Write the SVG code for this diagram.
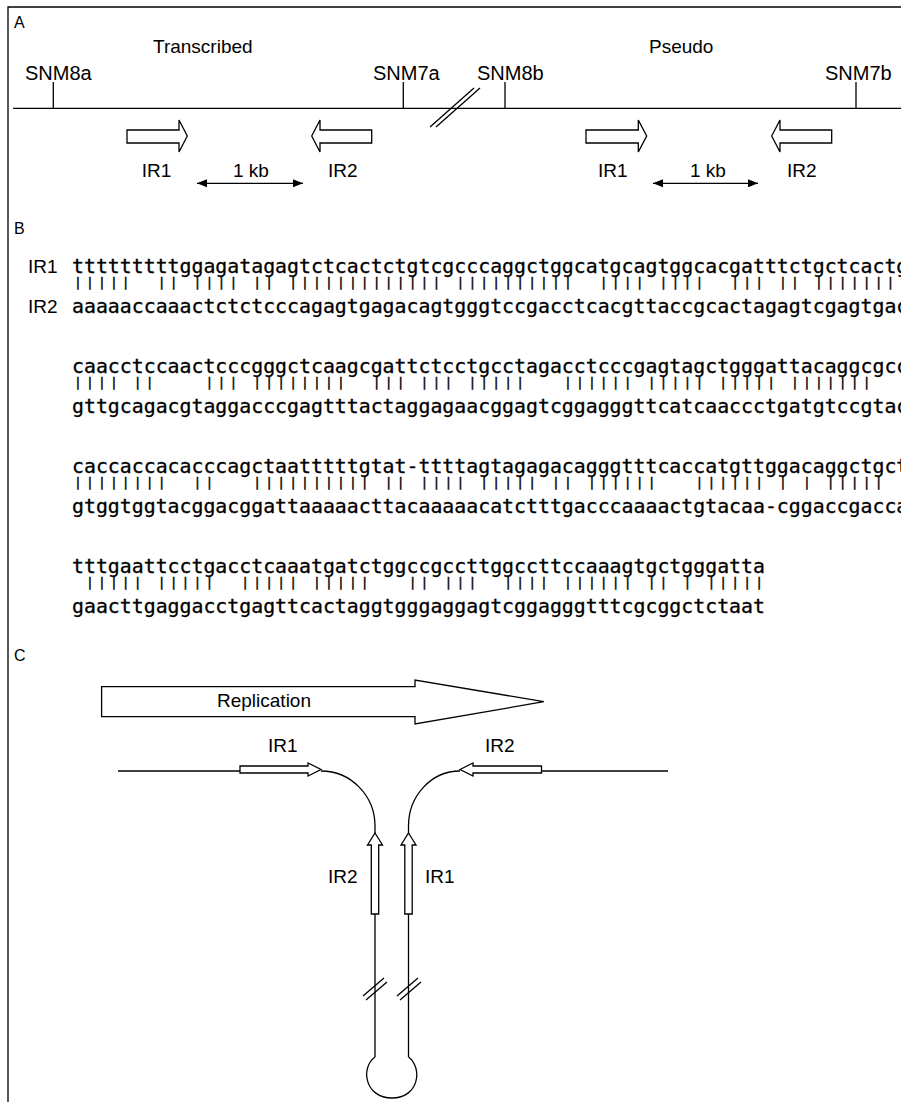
<svg xmlns="http://www.w3.org/2000/svg" width="901" height="1102" viewBox="0 0 901 1102">
<style>
.ln{fill:none;stroke:#000;stroke-width:1.3}
.ha{fill:#fff;stroke:#000;stroke-width:1.3;stroke-linejoin:miter}
.lb{font-family:"Liberation Sans",Arial,sans-serif;font-size:19px;fill:#000}
.snm{font-family:"Liberation Sans",Arial,sans-serif;font-size:20px;fill:#000}
.sec{font-family:"Liberation Sans",Arial,sans-serif;font-size:16px;fill:#000}
.sq{font-family:"DejaVu Sans Mono","Liberation Mono",monospace;font-size:19.85px;fill:#000;stroke:#000;stroke-width:0.3}
.br{font-family:"DejaVu Sans Mono","Liberation Mono",monospace;font-size:13px;letter-spacing:4.123px;fill:#000;stroke:#000;stroke-width:0.4;white-space:pre;opacity:0.99}
</style>
<defs>
<marker id="ah" markerUnits="userSpaceOnUse" markerWidth="10" markerHeight="8" refX="10" refY="4" orient="auto-start-reverse">
<path d="M0,0 L10,4 L0,8 Z" fill="#000"/>
</marker>
</defs>
<g id="frame">
<path class="ln" d="M8,1102 V7 H901" stroke-width="1.5"/>
</g>
<g id="panelA">
<text class="sec" x="14" y="28">A</text>
<text class="lb" x="153" y="53">Transcribed</text>
<text class="lb" x="649" y="53">Pseudo</text>
<g id="genome-line">
<path class="ln" d="M13,108.3 H901"/>
<path class="ln" d="M430,127 L474,88 M436,127 L480,88"/>
</g>
<g id="SNM8a"><path class="ln" d="M53.3,82 V108"/><text class="snm" x="25" y="80">SNM8a</text></g>
<g id="SNM7a"><path class="ln" d="M403.3,82 V108"/><text class="snm" x="373" y="80">SNM7a</text></g>
<g id="SNM8b"><path class="ln" d="M505,82 V108"/><text class="snm" x="477" y="80">SNM8b</text></g>
<g id="SNM7b"><path class="ln" d="M856,82 V108"/><text class="snm" x="825" y="80">SNM7b</text></g>
<g id="A-IR1-t"><path class="ha" d="M127,130 H179 V120 L187.3,136 L179,152 V143 H127 Z"/><text class="lb" x="141.7" y="176.7">IR1</text></g>
<g id="A-IR2-t"><path class="ha" d="M311.7,136 L320,120 V130 H371.7 V143 H320 V152 Z"/><text class="lb" x="328" y="176.7">IR2</text></g>
<g id="A-scale-t"><path class="ln" d="M197,183.3 H303" marker-start="url(#ah)" marker-end="url(#ah)"/><text class="lb" x="233" y="176.7">1 kb</text></g>
<g id="A-IR1-p"><path class="ha" d="M586,130 H638.3 V120 L646.7,136 L638.3,152 V143 H586 Z"/><text class="lb" x="598" y="176.7">IR1</text></g>
<g id="A-IR2-p"><path class="ha" d="M771.7,136 L780,120 V130 H831.7 V143 H780 V152 Z"/><text class="lb" x="787" y="176.7">IR2</text></g>
<g id="A-scale-p"><path class="ln" d="M653,183.3 H758" marker-start="url(#ah)" marker-end="url(#ah)"/><text class="lb" x="690" y="176.7">1 kb</text></g>
</g>
<g id="panelB">
<text class="sec" x="14" y="234">B</text>
<text class="lb" x="28" y="273">IR1</text>
<text class="lb" x="28" y="313">IR2</text>
<g id="block1">
<text class="sq" x="72" y="273">tttttttttggagatagagtctcactctgtcgcccaggctggcatgcagtggcacgatttctgctcactg</text>
<text class="br" x="74.06" y="287" xml:space="preserve">|||||  || |||| || ||||||||||||| ||||||||||  |||| ||||  ||| || ||||||||</text>
<text class="sq" x="72" y="313">aaaaaccaaactctctcccagagtgagacagtgggtccgacctcacgttaccgcactagagtcgagtgac</text>
</g>
<g id="block2">
<text class="sq" x="72" y="373">caacctccaactcccgggctcaagcgattctcctgcctagacctcccgagtagctgggattacaggcgcc</text>
<text class="br" x="74.06" y="387" xml:space="preserve">|||| ||    ||| ||||||||  ||| ||| |||||   |||||| ||||| ||||| |||||||</text>
<text class="sq" x="72" y="413">gttgcagacgtaggacccgagtttactaggagaacggagtcggagggttcatcaaccctgatgtccgtac</text>
</g>
<g id="block3">
<text class="sq" x="72" y="473">caccaccacacccagctaatttttgtat-ttttagtagagacagggtttcaccatgttggacaggctgct</text>
<text class="br" x="74.06" y="487" xml:space="preserve">||||||||  ||   |||||||||| || |||| ||||| || ||||||   |||||| | | |||||</text>
<text class="sq" x="72" y="513">gtggtggtacggacggattaaaaacttacaaaaacatctttgacccaaaactgtacaa-cggaccgacca</text>
</g>
<g id="block4">
<text class="sq" x="72" y="573">tttgaattcctgacctcaaatgatctggccgccttggccttccaaagtgctgggatta</text>
<text class="br" x="74.06" y="587" xml:space="preserve"> ||||| |||||  ||||| |||||   || |||  |||| |||||| || | |||||</text>
<text class="sq" x="72" y="613">gaacttgaggacctgagttcactaggtgggaggagtcggagggtttcgcggctctaat</text>
</g>
</g>
<g id="panelC">
<text class="sec" x="14" y="661">C</text>
<g id="replication">
<path class="ha" d="M101.6,686.7 H415 V680 L543.8,701.7 L415,724 V716.7 H101.6 Z"/>
<text class="lb" x="217" y="707">Replication</text>
</g>
<g id="connectors">
<path class="ln" d="M118,771 H240"/>
<path class="ln" d="M541.5,771 H668"/>
<path class="ln" d="M321,771 A54,55 0 0 1 375,826 V1057"/>
<path class="ln" d="M460,771 A51.5,55 0 0 0 408.5,826 V1057"/>
<path class="ln" d="M375,1057 C360,1068 365,1098 392,1098 C419,1098 423,1068 408.5,1057"/>
<path class="ln" d="M363,996 L384,978 M366,1000 L387,982"/>
<path class="ln" d="M397,996 L418,978 M400,1000 L421,982"/>
</g>
<g id="C-IR1-h"><path class="ha" d="M240,766 H308 V763 L321,769.5 L308,776 V773 H240 Z"/><text class="lb" x="268" y="752">IR1</text></g>
<g id="C-IR2-h"><path class="ha" d="M460,769.5 L473,763 V766 H541.5 V773 H473 V776 Z"/><text class="lb" x="485" y="752">IR2</text></g>
<g id="C-IR2-v"><path class="ha" d="M375,833 L382.5,845 H378.7 V914 H371.3 V845 H367.5 Z"/><text class="lb" x="328" y="883">IR2</text></g>
<g id="C-IR1-v"><path class="ha" d="M408.5,833 L416,845 H412.2 V914 H404.8 V845 H401 Z"/><text class="lb" x="425" y="883">IR1</text></g>
</g>
</svg>
